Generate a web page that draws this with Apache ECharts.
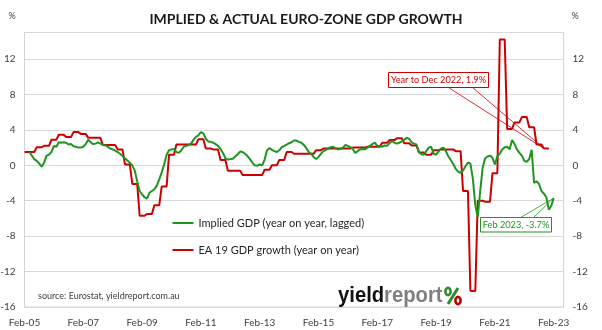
<!DOCTYPE html>
<html>
<head>
<meta charset="utf-8">
<script src="https://cdn.jsdelivr.net/npm/echarts@6/dist/echarts.min.js"></script>
<style>
  html, body { margin: 0; padding: 0; background: #fff; }
  #chart { width: 602px; height: 330px; }
</style>
</head>
<body>
<div id="chart"></div>
<script>
// Monthly axis: Feb-05 through Jun-23
const MONTH_NAMES = ['Jan','Feb','Mar','Apr','May','Jun','Jul','Aug','Sep','Oct','Nov','Dec'];
const START_YEAR = 2005;
const START_MONTH = 1;          // February (0-based)
const MONTH_COUNT = 221;
const LABEL_EVERY = 24;         // tick label every two years

// Implied GDP (year on year, lagged), monthly, Apr-05 .. Feb-23
const impliedStartIndex = 2;
const impliedGdp = [
  1.5, 1.1, 0.7, 0.5, 0.2, -0.15, 0.3, 1.1, 1.2, 1.5,
  2.2, 2.1, 2.6, 2.55, 2.6, 2.55, 2.35, 2.4, 2.15, 2.1,
  2.0, 2.0, 2.1, 2.4, 2.9, 2.6, 2.4, 2.45, 2.6, 2.45,
  2.3, 2.25, 2.1, 1.9, 1.8, 1.65, 1.5, 1.3, 1.05, 0.8,
  0.55, 0.3, 0.0, -0.6, -1.8, -2.9, -3.3, -3.6, -3.75, -3.1,
  -2.9, -2.7, -2.3, -1.6, -0.8, 0.1, 1.2, 1.7, 1.8, 1.85,
  1.5, 1.4, 1.7, 2.1, 2.2, 2.3, 2.45, 2.9, 3.2, 3.4,
  3.75, 3.6, 3.0, 2.7, 2.65, 2.55, 2.4, 2.2, 1.85, 1.4,
  0.8, 0.65, 0.7, 0.75, 1.0, 1.25, 1.55, 1.5, 1.3, 1.05,
  0.7, 0.3, 0.0, -0.05, 0.1, 0.0, 0.65, 1.7, 1.95, 1.75,
  1.6, 1.5, 1.7, 2.05, 2.2, 2.35, 2.5, 2.6, 2.8, 2.8,
  2.65, 2.55, 2.3, 1.95, 1.5, 1.3, 0.95, 0.7, 0.95, 1.3,
  1.6, 1.75, 1.9, 2.05, 2.1, 1.9, 1.8, 1.85, 2.0, 2.3,
  2.2, 2.05, 1.85, 1.4, 1.6, 1.8, 1.85, 1.8, 2.0, 2.2,
  2.4, 2.55, 2.2, 2.15, 2.1, 2.25, 2.2, 2.5, 2.75, 2.55,
  2.45, 2.55, 2.7, 2.9, 3.1, 3.0, 2.6, 2.45, 2.35, 1.5,
  1.25, 1.2, 1.6, 2.0, 2.1, 1.3, 1.2, 1.55, 1.9, 2.0,
  1.6, 1.0, 0.6, 0.15, -0.4, -0.7, -0.85, -0.6, -0.1, 0.3,
  0.2, -1.5, -4.5, -5.85, -2.9, -0.3, 0.8, 1.0, 1.1, 0.85,
  0.1, 1.05, 1.3, 1.8, 2.05, 2.1, 1.8, 2.85, 2.4, 1.8,
  1.4, 1.1, 0.5, 0.4, 0.7, 1.75, -2.0, -1.8, -2.1, -2.9,
  -3.2, -3.6, -5.0, -4.6, -3.7
];

// EA 19 GDP growth (year on year), quarterly, Q1-05 .. Q4-22
const ea19Quarterly = [
  1.5, 1.5, 2.05, 2.2,
  2.9, 3.45, 3.2, 3.75,
  3.55, 3.1, 3.1, 2.3,
  2.3, 1.8, 0.1, -2.1,
  -5.7, -5.5, -4.5, -2.4,
  1.2, 2.35, 2.35, 2.35,
  2.95, 1.9, 1.8, 0.6,
  -0.6, -0.6, -1.1, -1.1,
  -1.1, -0.5, 0.0, 0.6,
  1.5, 1.3, 1.3, 1.3,
  1.7, 1.9, 1.9, 1.9,
  1.9, 2.0, 2.0, 2.1,
  2.1, 2.55, 2.85, 3.05,
  2.5, 2.25, 1.45, 1.2,
  1.7, 1.8, 1.8, 1.6,
  -2.9, -14.2, -4.0, -4.1,
  -0.9, 14.2, 4.1, 4.85,
  5.45, 4.3, 2.35, 1.9
];

// Value axis ticks (same on both sides)
const yMin = -16, yMax = 15, yStep = 4;

// Callout texts
const redCallout = { text: 'Year to Dec 2022, 1.9%', month: 'Oct-22', value: 1.9 };
const greenCallout = { text: 'Feb 2023, -3.7%', month: 'Feb-23', value: -3.7 };

const GREEN = '#1f951f';
const RED = '#cc0000';
const FONT = 'Lato, "Open Sans", sans-serif';
const LOGO_FONT = 'bold 22px "Liberation Sans", sans-serif';

// Category labels
const months = [];
for (let i = 0; i < MONTH_COUNT; i++) {
  const m = START_MONTH + i;
  const y = START_YEAR + Math.floor(m / 12);
  months.push(MONTH_NAMES[m % 12] + '-' + String(y % 100).padStart(2, '0'));
}

// Implied series laid on the monthly axis
const impliedSeries = months.map((_, i) => {
  const k = i - impliedStartIndex;
  return (k >= 0 && k < impliedGdp.length) ? impliedGdp[k] : null;
});

// Quarterly figures held flat across the three months of each quarter
// (Feb-05 is the second month of Q1-05)
const ea19Series = months.map((_, i) => {
  const q = Math.floor((i + 1) / 3);
  return q < ea19Quarterly.length ? ea19Quarterly[q] : null;
});

const chart = echarts.init(document.getElementById('chart'), null, { renderer: 'canvas' });

const valueAxis = (pos, showSplit) => ({
  type: 'value',
  position: pos,
  min: yMin, max: yMax, interval: yStep,
  axisLine: { show: false },
  axisTick: { show: false },
  splitLine: { show: showSplit, lineStyle: { color: '#d9d9d9', width: 1 } },
  axisLabel: {
    margin: 9,
    fontSize: 10,
    fontFamily: FONT,
    color: '#404040',
    formatter: v => (v % yStep === 0 ? String(v) : '')
  }
});

const LEGEND_GREEN = 'Implied GDP (year on year, lagged)';
const LEGEND_RED = 'EA 19 GDP growth (year on year)';

chart.setOption({
  animation: false,
  backgroundColor: '#ffffff',
  grid: {
    left: 24.5, right: 38.5, top: 32.5, bottom: 23,
    containLabel: false,
    outerBoundsMode: 'none',
    show: true,
    borderColor: '#d4d4d4',
    borderWidth: 1
  },
  xAxis: {
    type: 'category',
    data: months,
    boundaryGap: false,
    axisLine: { show: false },
    axisTick: { show: false },
    splitLine: { show: false },
    axisLabel: {
      interval: i => i % LABEL_EVERY === 0,
      margin: 11,
      fontSize: 10,
      fontFamily: FONT,
      color: '#404040'
    }
  },
  yAxis: [valueAxis('left', true), valueAxis('right', false)],
  legend: {
    orient: 'vertical',
    left: 172.5, top: 216, padding: 0,
    itemWidth: 21, itemHeight: 2, itemGap: 13,
    textStyle: { fontSize: 11, fontFamily: FONT, color: '#262626', lineHeight: 14 },
    data: [
      { name: LEGEND_GREEN, icon: 'rect' },
      { name: LEGEND_RED, icon: 'rect' }
    ]
  },
  series: [
    {
      name: LEGEND_RED,
      type: 'line',
      data: ea19Series,
      symbol: 'none',
      lineStyle: { color: RED, width: 2 },
      itemStyle: { color: RED },
      z: 2
    },
    {
      name: LEGEND_GREEN,
      type: 'line',
      data: impliedSeries,
      symbol: 'none',
      lineStyle: { color: GREEN, width: 2 },
      itemStyle: { color: GREEN },
      z: 3
    }
  ]
});

// Annotations, titles and logo
const redTip = chart.convertToPixel({ xAxisIndex: 0, yAxisIndex: 0 }, [redCallout.month, redCallout.value]);
const greenTip = chart.convertToPixel({ xAxisIndex: 0, yAxisIndex: 0 }, [greenCallout.month, greenCallout.value]);

const redBox = { x: 388.5, y: 72.5, w: 100, h: 15 };
const greenBox = { x: 480.5, y: 217.5, w: 71, h: 14.5 };
const pct = { x: 444, y: 286 };   // logo percent sign, top-left corner

chart.setOption({
  graphic: [
    {
      type: 'text', x: 306, y: 12, z: 10,
      style: { text: 'IMPLIED & ACTUAL EURO-ZONE GDP GROWTH', fill: '#1a1a1a',
               font: 'bold 14px ' + FONT, textAlign: 'center' }
    },
    { type: 'text', x: 12, y: 12, style: { text: '%', fill: '#404040', font: '9px ' + FONT, textAlign: 'center' } },
    { type: 'text', x: 575, y: 12, style: { text: '%', fill: '#404040', font: '9px ' + FONT, textAlign: 'center' } },
    {
      type: 'text', x: 38, y: 292, z: 10,
      style: { text: 'source: Eurostat, yieldreport.com.au', fill: '#404040', font: '9px ' + FONT }
    },
    {
      type: 'text', x: 338, y: 285, z: 10, scaleX: 0.92,
      style: {
        text: '{a|yield}{b|report}',
        rich: {
          a: { fill: '#111111', font: LOGO_FONT },
          b: { fill: '#808080', font: LOGO_FONT }
        }
      }
    },
    // percent sign of the logo: green upper ring, red lower ring
    {
      type: 'line', z: 10,
      shape: { x1: pct.x + 14, y1: pct.y + 2, x2: pct.x + 4, y2: pct.y + 18 },
      style: { stroke: '#2e8b2e', lineWidth: 3 }
    },
    {
      type: 'ellipse', z: 10,
      shape: { cx: pct.x + 4, cy: pct.y + 5.5, rx: 2.6, ry: 3.6 },
      style: { stroke: '#2e8b2e', lineWidth: 2.6, fill: null }
    },
    {
      type: 'ellipse', z: 10,
      shape: { cx: pct.x + 14, cy: pct.y + 14.5, rx: 2.6, ry: 3.6 },
      style: { stroke: '#c00000', lineWidth: 2.6, fill: null }
    },
    // Red callout
    {
      type: 'polyline', z: 20, silent: true,
      shape: { points: [[redBox.x + 60, redBox.y + redBox.h], redTip, [redBox.x + 84, redBox.y + redBox.h]] },
      style: { stroke: RED, lineWidth: 0.8, fill: null }
    },
    {
      type: 'rect', z: 21,
      shape: { x: redBox.x, y: redBox.y, width: redBox.w, height: redBox.h },
      style: { fill: '#ffffff', stroke: RED, lineWidth: 1 }
    },
    {
      type: 'text', z: 22, x: redBox.x + redBox.w / 2, y: redBox.y + redBox.h / 2,
      style: { text: redCallout.text, fill: RED, font: '9.2px ' + FONT, textAlign: 'center', textVerticalAlign: 'middle' }
    },
    // Green callout
    {
      type: 'polyline', z: 20, silent: true,
      shape: { points: [[greenBox.x + 40, greenBox.y], greenTip, [greenBox.x + 53, greenBox.y]] },
      style: { stroke: GREEN, lineWidth: 0.8, fill: null }
    },
    {
      type: 'rect', z: 21,
      shape: { x: greenBox.x, y: greenBox.y, width: greenBox.w, height: greenBox.h },
      style: { fill: '#ffffff', stroke: GREEN, lineWidth: 1 }
    },
    {
      type: 'text', z: 22, x: greenBox.x + greenBox.w / 2, y: greenBox.y + greenBox.h / 2,
      style: { text: greenCallout.text, fill: GREEN, font: '9.2px ' + FONT, textAlign: 'center', textVerticalAlign: 'middle' }
    }
  ]
});
</script>
</body>
</html>
